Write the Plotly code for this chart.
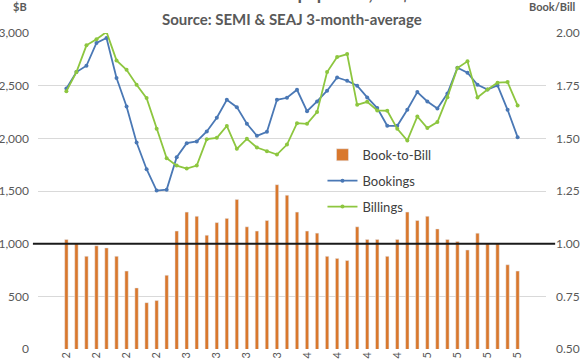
import plotly.graph_objects as go

months = ["Jan-12", "Feb-12", "Mar-12", "Apr-12", "May-12", "Jun-12", "Jul-12", "Aug-12",
          "Sep-12", "Oct-12", "Nov-12", "Dec-12", "Jan-13", "Feb-13", "Mar-13", "Apr-13",
          "May-13", "Jun-13", "Jul-13", "Aug-13", "Sep-13", "Oct-13", "Nov-13", "Dec-13",
          "Jan-14", "Feb-14", "Mar-14", "Apr-14", "May-14", "Jun-14", "Jul-14", "Aug-14",
          "Sep-14", "Oct-14", "Nov-14", "Dec-14", "Jan-15", "Feb-15", "Mar-15", "Apr-15",
          "May-15", "Jun-15", "Jul-15", "Aug-15", "Sep-15", "Oct-15"]

bookings = [2474, 2629, 2689, 2905, 2952, 2572, 2303, 1960, 1707, 1504, 1513, 1821, 1954, 1970,
            2065, 2195, 2366, 2296, 2138, 2024, 2062, 2366, 2385, 2461, 2258, 2350, 2452, 2578,
            2547, 2499, 2388, 2287, 2119, 2119, 2271, 2439, 2350, 2284, 2426, 2670, 2623, 2509,
            2464, 2502, 2271, 2011]

billings = [2448, 2629, 2883, 2940, 3010, 2740, 2651, 2509, 2382, 2090, 1811, 1741, 1713, 1741,
            1992, 2005, 2118, 1900, 1995, 1913, 1878, 1846, 1941, 2144, 2138, 2249, 2629, 2772,
            2800, 2318, 2347, 2265, 2262, 2090, 1979, 2208, 2097, 2154, 2391, 2667, 2731, 2388,
            2464, 2528, 2534, 2312]

book_to_bill = [1.02, 1.00, 0.94, 0.99, 0.98, 0.94, 0.87, 0.79, 0.72, 0.73, 0.85, 1.06, 1.15, 1.13,
                1.04, 1.10, 1.12, 1.21, 1.08, 1.06, 1.11, 1.28, 1.23, 1.15, 1.06, 1.05, 0.94, 0.93,
                0.92, 1.08, 1.02, 1.02, 0.94, 1.02, 1.15, 1.11, 1.13, 1.07, 1.02, 1.01, 0.97, 1.05,
                1.00, 1.00, 0.90, 0.87]

left_ticks = [0, 500, 1000, 1500, 2000, 2500, 3000]
right_ticks = [0.50, 0.75, 1.00, 1.25, 1.50, 1.75, 2.00]
x_tick_labels = months[::3]

FONT = "Lato"
GRAY = "#595959"

fig = go.Figure()
fig.add_trace(go.Bar(x=months, y=book_to_bill, name="Book-to-Bill", yaxis="y2",
                     marker_color="#D9782D", legendgroup="a"))
fig.add_trace(go.Scatter(x=months, y=bookings, name="Bookings", mode="lines+markers",
                         line=dict(color="#4A78B5", width=1.8), marker=dict(size=4),
                         legendgroup="b"))
fig.add_trace(go.Scatter(x=months, y=billings, name="Billings", mode="lines+markers",
                         line=dict(color="#8DC63F", width=1.8), marker=dict(size=4),
                         legendgroup="c"))

fig.add_shape(type="line", xref="paper", yref="y2", x0=-0.01, x1=1.018, y0=1.0, y1=1.0,
              line=dict(color="#1a1a1a", width=2))

fig.add_annotation(text="<b>Semiconductor Equipment, US$M</b>", xref="paper", yref="paper",
                   x=0.5, y=1.085, yanchor="bottom", showarrow=False,
                   font=dict(family=FONT, size=18, color=GRAY))
fig.add_annotation(text="<b>Source: SEMI & SEAJ 3-month-average</b>", xref="paper", yref="paper",
                   x=0.5, y=1.043, yanchor="middle", showarrow=False,
                   font=dict(family=FONT, size=15, color=GRAY))
fig.add_annotation(text="<b>$B</b>", xref="paper", yref="paper", x=-0.018, y=1.083,
                   xanchor="right", yanchor="middle", showarrow=False,
                   font=dict(family=FONT, size=11, color=GRAY))
fig.add_annotation(text="<b>Book/Bill</b>", xref="paper", yref="paper", x=1.012, y=1.083,
                   xanchor="center", yanchor="middle", showarrow=False,
                   font=dict(family=FONT, size=11, color=GRAY))

fig.update_layout(
    width=580, height=359,
    margin=dict(l=38, r=34, t=33, b=10),
    paper_bgcolor="white", plot_bgcolor="white",
    font=dict(family=FONT, size=12, color=GRAY),
    bargap=0.66,
    showlegend=True,
    legend=dict(x=0.56, y=0.662, xanchor="left", yanchor="top", bgcolor="rgba(0,0,0,0)",
                font=dict(family=FONT, size=13, color="#404040"), traceorder="grouped",
                tracegroupgap=6, itemwidth=30),
    xaxis=dict(type="category", tickmode="array", tickvals=x_tick_labels, ticktext=x_tick_labels,
               tickangle=-90, showgrid=False, showline=False, ticks="", automargin=False,
               tickfont=dict(size=11, color=GRAY)),
    yaxis=dict(range=[0, 3000], tickvals=left_ticks, tickformat=",", showgrid=True,
               gridcolor="#D9D9D9", gridwidth=1, zeroline=False, showline=False, ticks="",
               ticklabelstandoff=8, automargin=False, tickfont=dict(size=12, color=GRAY)),
    yaxis2=dict(range=[0.5, 2.0], tickvals=right_ticks, tickformat=".2f", overlaying="y",
                side="right", showgrid=False, zeroline=False, showline=False, ticks="",
                ticklabelstandoff=9, automargin=False, tickfont=dict(size=12, color=GRAY)),
)

fig.write_html("out.html", config={"displayModeBar": False},
               post_script="document.body.style.margin='0';document.body.style.overflow='hidden';")
